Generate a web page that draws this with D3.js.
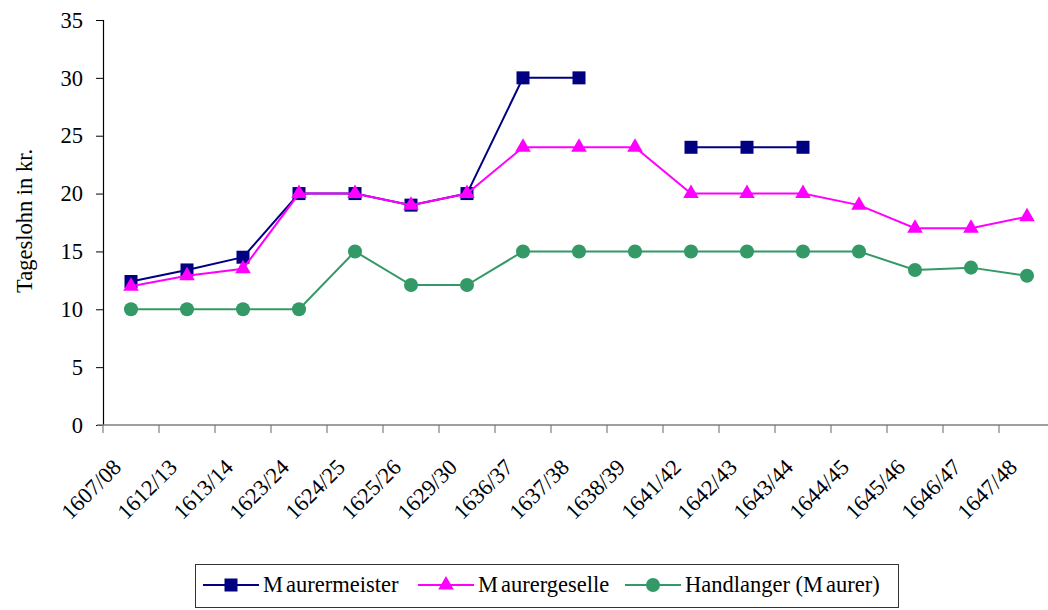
<!DOCTYPE html>
<html>
<head>
<meta charset="utf-8">
<script src="https://cdn.jsdelivr.net/npm/d3@7"></script>
<style>
  html, body { margin: 0; padding: 0; background: #fff; }
  svg { display: block; }
  svg text { font-family: "Liberation Serif", "DejaVu Serif", "Times New Roman", serif !important; }
</style>
</head>
<body>
<svg id="chart" width="1048" height="610"></svg>
<script>
// Daily wages (Kreuzer) of masons' trades, 1607–1648
const categories = ["1607/08", "1612/13", "1613/14", "1623/24", "1624/25", "1625/26", "1629/30",
  "1636/37", "1637/38", "1638/39", "1641/42", "1642/43", "1643/44", "1644/45", "1645/46",
  "1646/47", "1647/48"];
const maurermeister = [12.4, 13.4, 14.5, 20, 20, 19, 20, 30, 30, null, 24, 24, 24, null, null, null, null];
const maurergeselle = [12, 12.9, 13.5, 20, 20, 19, 20, 24, 24, 24, 20, 20, 20, 19, 17, 17, 18];
const handlanger = [10, 10, 10, 10, 15, 12.1, 12.1, 15, 15, 15, 15, 15, 15, 15, 13.4, 13.6, 12.9];
const yTicks = [0, 5, 10, 15, 20, 25, 30, 35];
const seriesNames = [["M", "aurermeister"], ["M", "aurergeselle"], ["Handlanger (M", "aurer)"]];
const seriesColors = ["#000080", "#ff00ff", "#339966"];
const seriesSymbols = [d3.symbolSquare, d3.symbolTriangle, d3.symbolCircle];

const svg = d3.select("#chart");
const plotLeft = 103, plotTop = 20, plotBottom = 425;
const band = 56;
const fontSize = 22.5;
const serif = "Liberation Serif, DejaVu Serif, serif";

const x = d3.scaleBand().domain(categories).range([plotLeft, plotLeft + band * categories.length]).padding(0);
const y = d3.scaleLinear().domain([0, 35]).range([plotBottom, plotTop]);

// y axis
const yAxis = svg.append("g").attr("transform", `translate(${plotLeft},0)`)
  .call(d3.axisLeft(y).tickValues(yTicks).tickSize(7).tickPadding(13));
yAxis.attr("font-family", serif);
yAxis.select(".domain").attr("stroke", "#000").attr("stroke-width", 1.2);
yAxis.selectAll(".tick line").attr("stroke", "#000");
yAxis.selectAll(".tick text").attr("font-size", fontSize).attr("fill", "#000");

// x axis: boundary ticks between categories
const xg = svg.append("g").attr("font-family", serif);
xg.append("line").attr("x1", plotLeft - 6).attr("x2", 1048).attr("y1", plotBottom).attr("y2", plotBottom)
  .attr("stroke", "#7f7f7f").attr("stroke-width", 1.5);
xg.selectAll("line.tk").data(categories).join("line").attr("class", "tk")
  .attr("x1", d => x(d)).attr("x2", d => x(d))
  .attr("y1", plotBottom).attr("y2", plotBottom + 8)
  .attr("stroke", "#7f7f7f").attr("stroke-width", 1.2);
xg.selectAll("text").data(categories).join("text")
  .attr("transform", d => `translate(${x(d) + band / 2 - 14},${plotBottom + 38}) rotate(-45)`)
  .attr("text-anchor", "end").attr("dy", "0.35em")
  .attr("font-size", fontSize).attr("fill", "#000")
  .text(d => d);

// y axis title
svg.append("text")
  .attr("transform", `translate(32,221) rotate(-90)`)
  .attr("text-anchor", "middle").attr("font-size", fontSize).attr("fill", "#000")
  .attr("font-family", serif)
  .text("Tageslohn in kr.");

const allSeries = [maurermeister, maurergeselle, handlanger];
const cx = d => x(d) + band / 2;
const sizes = [169, 105, 155];

allSeries.forEach((vals, i) => {
  const pts = categories.map((c, j) => ({ c, v: vals[j] }));
  const line = d3.line().defined(p => p.v !== null).x(p => cx(p.c)).y(p => y(p.v));
  svg.append("path").datum(pts).attr("d", line)
    .attr("fill", "none").attr("stroke", seriesColors[i]).attr("stroke-width", 2);
  svg.append("g").selectAll("path").data(pts.filter(p => p.v !== null)).join("path")
    .attr("transform", p => `translate(${cx(p.c)},${y(p.v)})`)
    .attr("d", d3.symbol().type(seriesSymbols[i]).size(sizes[i]))
    .attr("fill", seriesColors[i]);
});

// legend
const lg = svg.append("g").attr("font-family", serif);
lg.append("rect").attr("x", 195.5).attr("y", 564.5).attr("width", 703).attr("height", 43)
  .attr("fill", "#fff").attr("stroke", "#333").attr("stroke-width", 1);
const legendX = [203, 418, 625];
seriesNames.forEach((parts, i) => {
  const x0 = legendX[i], ly = 585;
  lg.append("line").attr("x1", x0).attr("x2", x0 + 56).attr("y1", ly).attr("y2", ly)
    .attr("stroke", seriesColors[i]).attr("stroke-width", 2);
  lg.append("path").attr("transform", `translate(${x0 + 28},${ly})`)
    .attr("d", d3.symbol().type(seriesSymbols[i]).size(sizes[i]))
    .attr("fill", seriesColors[i]);
  const t = lg.append("text").attr("x", x0 + 60).attr("y", ly + 7)
    .attr("font-size", fontSize).attr("fill", "#000");
  t.append("tspan").text(parts[0]);
  t.append("tspan").attr("dx", 3).text(parts[1]);
});
</script>
</body>
</html>
